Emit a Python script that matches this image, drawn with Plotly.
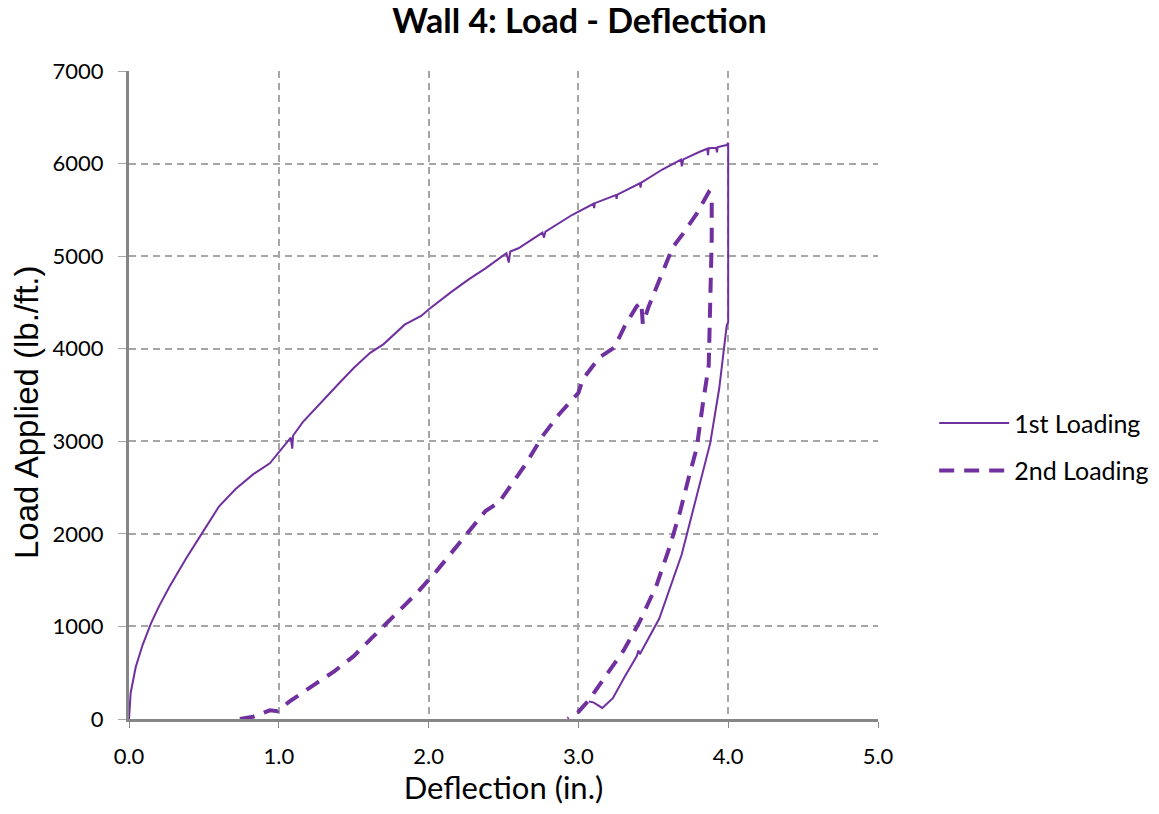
import plotly.graph_objects as go

# 1st loading (deflection in., load lb/ft)
x1 = [0.0, 0.011, 0.045, 0.09, 0.146, 0.2, 0.27, 0.38, 0.49, 0.6, 0.71, 0.83, 0.94, 1.0, 1.08, 1.09, 1.095,
      1.16, 1.28, 1.39, 1.5, 1.61, 1.7, 1.84, 1.95, 2.0, 2.15, 2.27, 2.38, 2.52, 2.535, 2.545, 2.6, 2.76,
      2.77, 2.78, 2.96, 3.1, 3.105, 3.11, 3.25, 3.255, 3.26, 3.41, 3.415, 3.42, 3.56, 3.685, 3.69, 3.70,
      3.81, 3.86, 3.865, 3.87, 3.92, 3.925, 3.93, 3.99, 4.0, 4.0, 4.0,
      3.99, 3.94, 3.88, 3.79, 3.69, 3.54, 3.41, 3.40, 3.39, 3.31, 3.23, 3.16, 3.10, 3.07]
y1 = [0, 281, 562, 796, 1030, 1217, 1428, 1732, 2013, 2294, 2481, 2645, 2762, 2880, 3040, 2920, 3060,
      3207, 3418, 3605, 3792, 3956, 4050, 4260, 4354, 4424, 4611, 4751, 4868, 5033, 4930, 5050, 5085, 5255,
      5200, 5265, 5447, 5565, 5520, 5572, 5660, 5620, 5665, 5787, 5740, 5795, 5936, 6043, 5970, 6045,
      6128, 6160, 6090, 6165, 6170, 6120, 6178, 6200, 6225, 5800, 4290,
      4250, 3570, 2980, 2420, 1780, 1085, 700, 740, 680, 460, 225, 120, 180, 190]

# 2nd loading
x2 = [0.74, 0.83, 0.94, 0.99, 1.07, 1.13, 1.24, 1.37, 1.5, 1.63, 1.76, 1.92, 2.05, 2.18, 2.27, 2.38, 2.47,
      2.56, 2.65, 2.76, 2.87, 3.0, 3.03, 3.14, 3.24, 3.31, 3.39, 3.42, 3.43, 3.47, 3.56, 3.63, 3.7, 3.79,
      3.87, 3.89, 3.89, 3.88, 3.87, 3.83, 3.79, 3.74, 3.68, 3.61, 3.52, 3.41, 3.30, 3.18, 3.07, 3.0, 2.93]
y2 = [0, 25, 94, 85, 187, 257, 375, 515, 679, 890, 1100, 1358, 1592, 1850, 2036, 2247, 2341,
      2551, 2757, 3055, 3289, 3523, 3672, 3906, 4013, 4247, 4460, 4500, 4268, 4460, 4821, 5097, 5246, 5459,
      5690, 5660, 5182, 4417, 3821, 3396, 2928, 2630, 2247, 1864, 1438, 1055, 736, 460, 204, 77, 0]

x_ticks = [0.0, 1.0, 2.0, 3.0, 4.0, 5.0]
y_ticks = [0, 1000, 2000, 3000, 4000, 5000, 6000, 7000]

purple = "#7030A0"
main_font = "Lato, Open Sans, sans-serif"
ytitle_font = "Liberation Sans, Arial, sans-serif"

fig = go.Figure()
fig.add_trace(go.Scatter(x=x1, y=y1, mode="lines", name="1st Loading", legendgroup="a",
                         line=dict(color=purple, width=2)))
fig.add_trace(go.Scatter(x=x2, y=y2, mode="lines", name="2nd Loading", legendgroup="b",
                         line=dict(color=purple, width=4, dash="15px,10px")))

fig.update_layout(
    width=1143, height=798,
    margin=dict(l=121, r=273, t=63, b=87, autoexpand=False),
    paper_bgcolor="white", plot_bgcolor="white",
    font=dict(family=main_font, color="black"),
    title=dict(text="<b>Wall 4: Load - Deflection</b>", x=0.5, xanchor="center",
               y=1 - 13/798, yanchor="middle", yref="container",
               font=dict(size=34, family=main_font)),
    legend=dict(x=1.075, xanchor="left", y=0.42, yanchor="middle",
                font=dict(size=25), traceorder="grouped", tracegroupgap=12, itemwidth=70),
    showlegend=True,
    annotations=[dict(text="Load Applied (lb./ft.)", textangle=-90,
                      xref="paper", yref="paper", x=-(129 - 26) / 749, y=(719 - 412) / 648,
                      xanchor="center", yanchor="middle", showarrow=False,
                      font=dict(size=33, family=ytitle_font, color="black"))],
)
fig.update_xaxes(
    range=[0, 5], tickvals=x_ticks, ticktext=[f"{v:.1f}" for v in x_ticks],
    showgrid=True, gridcolor="#A6A6A6", griddash="7px,5px", gridwidth=1.5,
    showline=True, linecolor="#868686", linewidth=3,
    ticks="outside", ticklen=6, tickcolor="#868686", ticklabelstandoff=10,
    tickfont=dict(size=22), zeroline=False, automargin=True,
    title=dict(text="Deflection (in.)", font=dict(size=31), standoff=14),
)
fig.update_yaxes(
    range=[0, 7000], tickvals=y_ticks, ticktext=[str(v) for v in y_ticks],
    showgrid=True, gridcolor="#A6A6A6", griddash="7px,5px", gridwidth=1.5,
    showline=True, linecolor="#868686", linewidth=3,
    ticks="outside", ticklen=8, tickcolor="#A6A6A6", ticklabelstandoff=10,
    tickfont=dict(size=22), zeroline=False, automargin=False,
)

fig.write_html("out.html")
